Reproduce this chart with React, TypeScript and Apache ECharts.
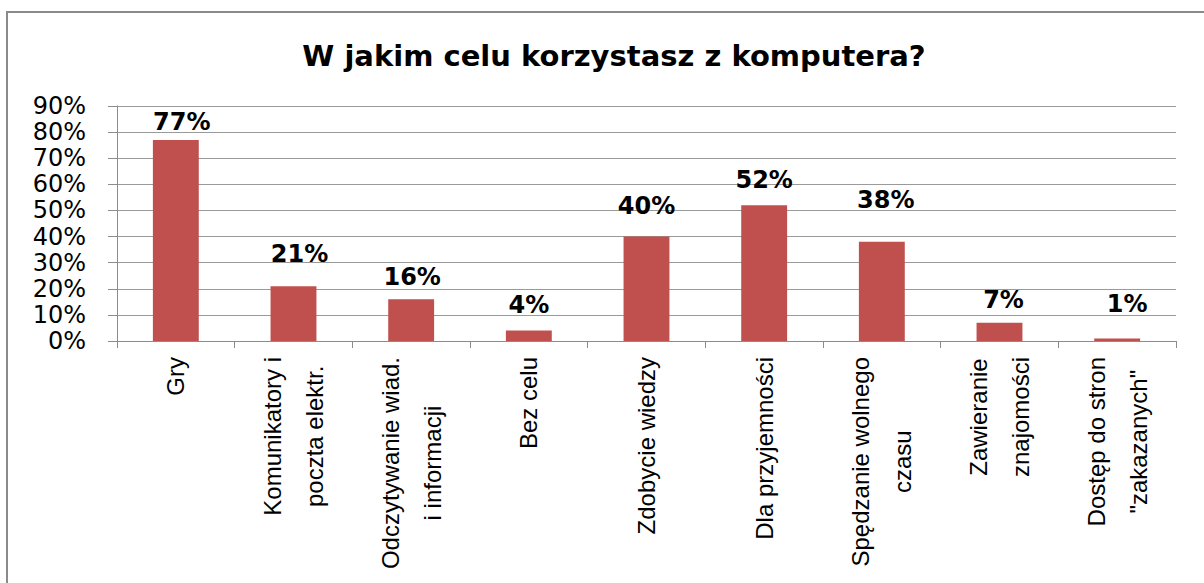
import React, { useEffect, useRef } from "react";
import * as echarts from "echarts";

const titleText = "W jakim celu korzystasz z komputera?";
const categories = [
  "Gry",
  "Komunikatory i\npoczta elektr.",
  "Odczytywanie wiad.\ni informacji",
  "Bez celu",
  "Zdobycie wiedzy",
  "Dla przyjemności",
  "Spędzanie wolnego\nczasu",
  "Zawieranie\nznajomości",
  "Dostęp do stron\n\"zakazanych\"",
];
const values = [77, 21, 16, 4, 40, 52, 38, 7, 1];
const yMin = 0;
const yMax = 90;
const yStep = 10;
// extra label shifts (px) as placed in the original chart
const labelShiftX = [6, 6, 1, 0, 0, 0, 4, 4, 10];
const labelShiftUp = [0, 14, 4, 8, 13, 7, 24, 5, 16];

export default function App() {
  const ref = useRef<HTMLDivElement>(null);
  useEffect(() => {
    if (!ref.current) return;
    const chart = echarts.init(ref.current, null, { renderer: "svg" });
    chart.setOption({
      animation: false,
      backgroundColor: "#ffffff",
      title: {
        text: titleText,
        left: 609,
        top: 36,
        textAlign: "center",
        textStyle: {
          fontFamily: "DejaVu Sans",
          fontWeight: "bold",
          fontSize: 29,
          color: "#000000",
        },
      },
      graphic: [
        {
          type: "rect",
          shape: { x: 7, y: 12, width: 1220, height: 620 },
          style: { fill: "none", stroke: "#8a8a8a", lineWidth: 2 },
          silent: true,
        },
      ],
      grid: { left: 117, top: 106, right: 28, bottom: 242, containLabel: false },
      xAxis: {
        type: "category",
        data: categories,
        boundaryGap: true,
        axisLine: { show: true, lineStyle: { color: "#8c8c8c", width: 1 } },
        axisTick: { show: true, length: 7, alignWithLabel: false, lineStyle: { color: "#8c8c8c" } },
        axisLabel: {
          interval: 0,
          rotate: 90,
          margin: 16,
          formatter: (v: string) =>
            v
              .split("\n")
              .map((l) => "{c|" + l + "}")
              .join("\n"),
          rich: {
            c: {
              fontFamily: "Liberation Sans",
              fontSize: 24,
              lineHeight: 42,
              color: "#000000",
              align: "center",
            },
          },
        },
      },
      yAxis: {
        type: "value",
        min: yMin,
        max: yMax,
        interval: yStep,
        axisLine: { show: true, lineStyle: { color: "#8c8c8c", width: 1 } },
        axisTick: { show: true, length: 9, lineStyle: { color: "#8c8c8c" } },
        splitLine: { show: true, lineStyle: { color: "#9a9a9a", width: 1 } },
        axisLabel: {
          margin: 31,
          formatter: "{value}%",
          fontFamily: "DejaVu Sans",
          fontSize: 24,
          color: "#000000",
        },
      },
      series: [
        {
          type: "bar",
          data: values.map((v, i) => ({
            value: v,
            label: { offset: [labelShiftX[i], -labelShiftUp[i]] },
          })),
          barWidth: "39%",
          itemStyle: { color: "#C0504D" },
          label: {
            show: true,
            position: "top",
            distance: 6,
            formatter: "{c}%",
            fontFamily: "DejaVu Sans",
            fontWeight: "bold",
            fontSize: 24,
            color: "#000000",
          },
        },
      ],
    });
    return () => chart.dispose();
  }, []);
  return (
    <div
      ref={ref}
      style={{ position: "fixed", left: 0, top: 0, width: 1204, height: 583 }}
    />
  );
}
